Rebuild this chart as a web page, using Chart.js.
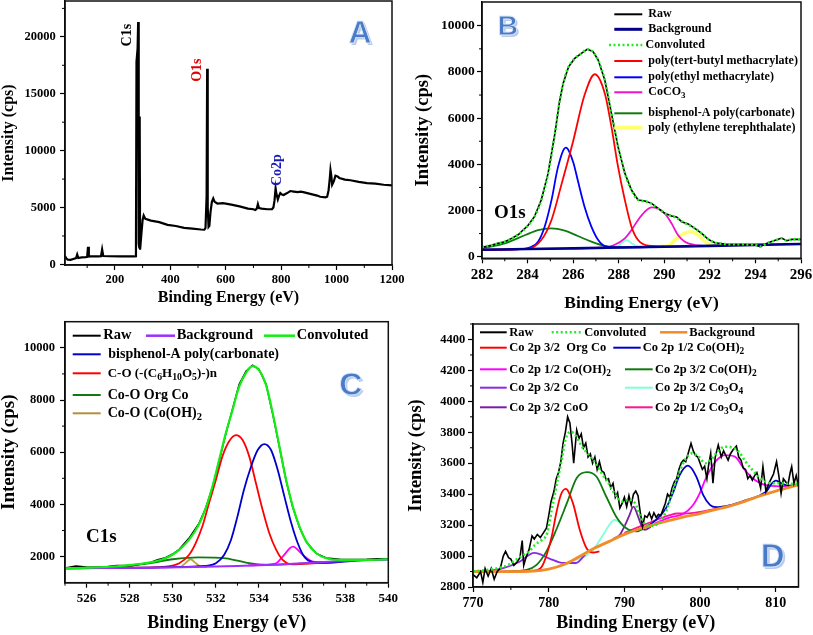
<!DOCTYPE html>
<html><head><meta charset="utf-8">
<script src="https://cdn.jsdelivr.net/npm/chart.js@4/dist/chart.umd.min.js"></script>
<style>
html,body{margin:0;padding:0;background:#fff;}
#wrap{position:relative;width:813px;height:635px;overflow:hidden;background:#fff;}
canvas{position:absolute;}
</style></head><body>
<div id="wrap">
<canvas id="cA" width="405" height="310" style="left:0;top:0;width:405px;height:310px"></canvas>
<canvas id="cB" width="408" height="320" style="left:405px;top:0;width:408px;height:320px"></canvas>
<canvas id="cC" width="405" height="325" style="left:0;top:310px;width:405px;height:325px"></canvas>
<canvas id="cD" width="408" height="325" style="left:405px;top:310px;width:408px;height:325px"></canvas>
</div>
<script>
// ---------------- DATA ----------------
// Panel A : survey
const surveyBE = [
 20, 25, 30, 40, 50, 60, 64, 68, 80, 95,
 100, 103, 106, 120, 140, 150, 154, 158, 180, 220,
 240, 270, 276, 278, 282, 284, 286, 288, 289.5, 291,
 292.5, 296, 300, 304, 310, 330, 360, 390, 420, 450,
 480, 510, 523, 527, 531, 533, 534, 536, 538, 541,
 545, 550, 555, 560, 570, 590, 620, 650, 680, 700,
 707, 712, 716, 720, 730, 750, 767, 772, 776, 780,
 783, 788, 792, 797, 803, 809, 820, 833, 846, 860,
 870, 880, 905, 930, 941, 960, 966, 971, 975, 978,
 981, 984, 990, 996, 1002, 1010, 1030, 1050, 1080, 1110,
 1140, 1170, 1200];
const surveyCounts = [
 750, 520, 420, 400, 480, 560, 880, 560, 620, 640,
 660, 1550, 700, 720, 700, 720, 1320, 740, 720, 700,
 720, 700, 720, 17800, 19000, 21300, 1800, 1500, 13000, 1300,
 1300, 2800, 3900, 4300, 4000, 3850, 3720, 3480, 3380, 3220,
 3150, 3070, 3050, 3200, 6000, 17200, 8200, 5000, 3300, 3400,
 4600, 5500, 5800, 5500, 5350, 5380, 5250, 5100, 4900, 4850,
 4780, 4900, 5300, 4950, 4900, 4850, 4850, 5000, 5600, 6680,
 6200, 5700, 6000, 6280, 6150, 6100, 6250, 6450, 6400, 6350,
 6400, 6350, 6200, 6050, 5950, 5900, 5950, 6500, 7400, 8300,
 7800, 7000, 7300, 7800, 7750, 7600, 7450, 7400, 7250, 7150,
 7100, 7000, 6950];
const surveyXTicks = [200, 400, 600, 800, 1000, 1200];
const surveyYTicks = [0, 5000, 10000, 15000, 20000];

// Panel B : O1s
const o1sBE = [282.0, 282.4, 282.7, 283.0, 283.3, 283.6, 283.8, 284.0, 284.3, 284.6,
 284.9, 285.2, 285.4, 285.56, 285.8, 286.07, 286.36, 286.63, 286.88, 287.1,
 287.39, 287.68, 287.97, 288.27, 288.56, 288.85, 289.15, 289.44, 289.73, 290.02,
 290.32, 290.54, 290.76, 291.05, 291.34, 291.64, 291.93, 292.22, 292.66, 293.25,
 293.98, 294.2, 294.56, 295.0, 295.15, 295.37, 295.6, 296.0];
const o1sRaw = [404, 490, 577, 650, 794, 960, 1154, 1330, 1732, 2453,
 3608, 5339, 6700, 7504, 8225, 8586, 8802, 8990, 8874, 8514,
 7648, 6205, 4762, 3608, 2886, 2453, 2410, 2309, 2092, 1876,
 1760, 1720, 1515, 1420, 1227, 1010, 750, 606, 548, 534,
 519, 433, 606, 750, 808, 693, 750, 750];
const o1sFit = [420, 490, 570, 650, 790, 960, 1140, 1330, 1720, 2440,
 3600, 5330, 6700, 7500, 8220, 8590, 8800, 8980, 8870, 8510,
 7650, 6210, 4770, 3610, 2890, 2460, 2400, 2300, 2090, 1880,
 1760, 1680, 1530, 1380, 1230, 1010, 760, 610, 550, 535,
 520, 440, 600, 750, 800, 700, 750, 750];
const o1sBgBE = [282, 284, 286, 288, 290, 292, 294, 296];
const o1sBg = [300, 330, 360, 395, 430, 470, 510, 550];
const ptbmaBE = [282, 284, 284.6, 285.05, 285.5, 286.0, 286.5, 286.95, 287.39, 287.68, 287.97, 288.27, 288.56, 288.85, 289.3, 290, 292];
const ptbma = [300, 340, 720, 1590, 3175, 5000, 7000, 7900, 7070, 5630, 3900, 2450, 1300, 720, 475, 440, 470];
const pemaBE = [282, 283.5, 284.17, 284.46, 284.75, 285.05, 285.34, 285.68, 286.0, 286.2, 286.5, 286.8, 287.1, 287.4, 288, 290];
const pema = [300, 320, 430, 650, 1300, 2450, 3900, 4720, 4100, 3320, 2165, 1300, 720, 460, 400, 430];
const coco3BE = [286, 287.4, 287.8, 288.27, 288.56, 288.85, 289.15, 289.44, 289.73, 290.02, 290.32, 290.6, 290.9, 291.34, 291.93, 293];
const coco3 = [360, 400, 505, 794, 1155, 1590, 1950, 2136, 2080, 1876, 1443, 938, 650, 505, 470, 500];
const bpaO1sBE = [282, 283.0, 283.9, 284.46, 285.05, 285.63, 286.2, 286.8, 287.4, 287.97, 289];
const bpaO1s = [360, 577, 938, 1155, 1227, 1125, 895, 650, 462, 400, 420];
const o1sMinorBE = [287.5, 287.9, 288.1, 288.34, 288.6, 288.85, 289.2];
const o1sMinor = [395, 420, 560, 720, 560, 440, 430];
const petBE = [289.8, 290.2, 290.46, 290.75, 291.12, 291.49, 291.78, 292.1, 292.5];
const pet = [440, 480, 720, 940, 1080, 940, 650, 520, 480];
const o1sXTicks = [282, 284, 286, 288, 290, 292, 294, 296];
const o1sYTicks = [0, 2000, 4000, 6000, 8000, 10000];

// Panel C : C1s
const c1sBE = [525, 525.5, 526, 526.55, 527, 527.4, 528.1, 528.9, 529.3, 529.66,
 530.0, 530.3, 530.75, 531.2, 531.5, 531.84, 532.15, 532.46, 532.77, 533.08,
 533.4, 533.7, 534.0, 534.33, 534.64, 534.95, 535.26, 535.57, 535.88, 536.2,
 536.66, 537.12, 537.75, 538.3, 539.0, 539.5, 540];
const c1sFit = [1553, 1560, 1575, 1592, 1610, 1630, 1681, 1770, 1840, 1936,
 2080, 2255, 2638, 3212, 3786, 4680, 5700, 6721, 7614, 8508,
 9043, 9299, 9146, 8572, 7487, 6211, 4935, 3914, 3148, 2574,
 2128, 1936, 1872, 1872, 1872, 1880, 1898];
const c1sRaw = [1560, 1640, 1600, 1590, 1620, 1660, 1650, 1760, 1880, 1960,
 2100, 2280, 2700, 3250, 3800, 4650, 5650, 6700, 7650, 8600,
 9100, 9330, 9180, 8600, 7450, 6200, 4900, 3880, 3120, 2560,
 2120, 1950, 1900, 1890, 1900, 1920, 1900];
const c1sBgBE = [525, 527, 529, 531, 533, 535, 537, 538.5, 540];
const c1sBg = [1553, 1560, 1575, 1600, 1640, 1700, 1790, 1850, 1898];
const coCelBE = [525, 528, 529.66, 530.3, 530.75, 531.06, 531.37, 531.68, 532.0, 532.3, 532.6, 532.93, 533.24, 533.55, 533.86, 534.17, 534.48, 534.8, 535.1, 535.57, 536.5, 538];
const coCel = [1553, 1575, 1617, 1745, 2064, 2510, 3150, 4040, 4935, 5830, 6400, 6657, 6466, 5830, 4807, 3786, 2893, 2255, 1872, 1700, 1740, 1840];
const bpaC1sBE = [525, 529, 531.5, 532.0, 532.38, 532.7, 533.0, 533.3, 533.63, 533.94, 534.25, 534.56, 534.87, 535.18, 535.5, 535.8, 536.1, 536.5, 537.12, 538.5, 540];
const bpaC1s = [1553, 1580, 1643, 1745, 2064, 2638, 3531, 4552, 5445, 6083, 6313, 6083, 5318, 4297, 3276, 2510, 2000, 1790, 1760, 1850, 1898];
const c1sMinorBE = [533.5, 534.3, 534.8, 535.1, 535.57, 536.04, 536.5, 537.1, 538];
const c1sMinor = [1660, 1690, 1745, 2000, 2383, 2064, 1809, 1780, 1830];
const coOrgBE = [525, 527.3, 528.9, 530.0, 531.2, 532.46, 533.55, 534.3, 535.5, 537];
const coOrg = [1560, 1617, 1745, 1898, 1974, 1936, 1745, 1680, 1710, 1790];
const coOHC1sBE = [530.0, 530.36, 530.6, 530.83, 531.05, 531.3, 531.6];
const coOHC1s = [1600, 1610, 1760, 1898, 1760, 1620, 1610];
const c1sXTicks = [526, 528, 530, 532, 534, 536, 538, 540];
const c1sYTicks = [2000, 4000, 6000, 8000, 10000];

// Panel D : Co 2p
const co2pRawBE = [770, 770.5, 771, 771.3, 771.6, 772, 772.4, 772.8, 773.2, 773.6,
 774, 774.3, 774.7, 775, 775.4, 775.8, 776.2, 776.5, 776.7, 777.0,
 777.4, 777.8, 778.1, 778.5, 778.9, 779.3, 779.7, 780.0, 780.3, 780.7,
 781.0, 781.3, 781.6, 781.9, 782.2, 782.5, 782.8, 783.1, 783.3, 783.7,
 784.0, 784.3, 784.6, 784.9, 785.2, 785.5, 785.8, 786.1, 786.4, 786.7,
 787.0, 787.3, 787.6, 787.9, 788.2, 788.5, 788.8, 789.1, 789.4, 789.7,
 790.0, 790.3, 790.6, 790.9, 791.2, 791.5, 791.8, 792.1, 792.4, 792.7,
 793.0, 793.3, 793.6, 793.9, 794.2, 794.5, 794.8, 795.1, 795.4, 795.7,
 796.0, 796.3, 796.6, 796.9, 797.2, 797.5, 797.8, 798.1, 798.4, 798.8,
 799.1, 799.4, 799.7, 800.0, 800.3, 800.6, 800.9, 801.1, 801.4, 801.7,
 802.0, 802.4, 802.8, 803.1, 803.4, 803.7, 804.0, 804.4, 804.8, 805.1,
 805.4, 805.7, 806.0, 806.3, 806.6, 806.9, 807.2, 807.5, 807.8, 808.0,
 808.3, 808.7, 809.0, 809.4, 809.7, 810.1, 810.4, 810.7, 811.0, 811.3,
 811.6, 811.9, 812.1, 812.4, 812.7, 813.0];
const co2pRaw = [2880, 2860, 2900, 2830, 2920, 2870, 2920, 2850, 2900, 2920,
 3000, 3030, 2990, 2980, 2940, 2960, 2990, 3100, 2940, 2990,
 3040, 3130, 3110, 3140, 3120, 3150, 3180, 3260, 3350, 3420,
 3500, 3540, 3610, 3730, 3800, 3900, 3860, 3720, 3600, 3815,
 3760, 3790, 3700, 3730, 3640, 3660, 3600, 3640, 3560, 3610,
 3550, 3540, 3490, 3500, 3440, 3470, 3380, 3410, 3310, 3340,
 3380, 3320, 3390, 3330, 3400, 3420, 3390, 3280, 3190, 3260,
 3250, 3280, 3240, 3280, 3250, 3270, 3260, 3300, 3340, 3400,
 3380, 3440, 3480, 3500, 3560, 3600, 3620, 3610, 3660, 3729,
 3680, 3650, 3640, 3600, 3560, 3580, 3500, 3580, 3664, 3471,
 3640, 3718, 3640, 3680, 3650, 3620, 3660, 3690, 3711, 3640,
 3620, 3570, 3560, 3500, 3520, 3490, 3520, 3540, 3480, 3440,
 3578, 3417, 3460, 3500, 3530, 3610, 3520, 3406, 3500, 3480,
 3460, 3540, 3578, 3470, 3520, 3450];
const co2pFitBE = [770, 772.1, 773.4, 774.7, 776.0, 777.4, 778.2, 779.1, 779.8, 780.4,
 781.1, 781.8, 782.2, 782.9, 783.5, 784.4, 785.3, 786.2, 787.0, 787.9,
 788.8, 789.7, 790.6, 791.4, 792.1, 792.8, 793.6, 794.5, 795.4, 796.3,
 797.2, 798.0, 798.9, 799.8, 800.7, 801.6, 802.5, 803.3, 804.2, 805.1,
 806.0, 806.9, 807.7, 808.6, 809.5, 810.4, 811.7, 813];
const co2pFit = [2901, 2912, 2923, 2944, 2987, 3030, 3073, 3105, 3148, 3299,
 3471, 3643, 3750, 3804, 3783, 3707, 3654, 3600, 3535, 3471,
 3396, 3353, 3363, 3342, 3256, 3202, 3196, 3213, 3277, 3406,
 3535, 3621, 3664, 3643, 3600, 3632, 3686, 3707, 3703, 3675,
 3611, 3557, 3514, 3482, 3471, 3471, 3467, 3467];
const co2pBgBE = [770, 774, 778, 780, 782, 784, 786, 788, 790, 792, 794, 796, 798, 800, 802, 804, 806, 808, 810, 813];
const co2pBg = [2900, 2900, 2903, 2915, 2945, 2995, 3050, 3095, 3140, 3175, 3205, 3230, 3255, 3275, 3300, 3325, 3355, 3390, 3420, 3460];
const orgCoBE = [770, 776, 778.0, 779.1, 779.8, 780.4, 781.0, 781.6, 782.25, 783.2, 784.1, 785.0, 785.9, 786.7];
const orgCo = [2900, 2900, 2905, 2932, 3018, 3126, 3277, 3395, 3434, 3342, 3170, 3051, 3023, 3030];
const coOH32BE = [774, 777.1, 778.4, 779.7, 781.0, 782.4, 783.7, 785.06, 786.3, 787.6, 788.9, 790.2, 791.6, 793];
const coOH32 = [2900, 2911, 2943, 3030, 3170, 3342, 3504, 3542, 3514, 3385, 3256, 3181, 3159, 3195];
const co3o4_32BE = [783.5, 784.8, 785.9, 787.2, 788.7, 790.0, 791.1, 792];
const co3o4_32 = [2975, 2998, 3041, 3138, 3234, 3191, 3159, 3175];
const co32BE = [770, 772.1, 773.9, 776.1, 778.1, 780.1, 781.8, 783.6, 784.8];
const co32 = [2898, 2904, 2920, 2962, 3020, 2984, 2956, 2955, 3008];
const coo32BE = [788.5, 789.4, 790.0, 790.6, 791.2, 791.8, 792.3, 792.7, 793.5];
const coo32 = [3110, 3138, 3191, 3256, 3320, 3256, 3191, 3170, 3190];
const coOH12aBE = [792.0, 792.9, 794.2, 795.5, 796.4, 797.3, 798.4, 799.5, 800.4, 801.3, 802.1, 804, 806, 808, 808.8, 809.4, 810.0, 810.6, 811.2, 812, 813];
const coOH12a = [3175, 3191, 3234, 3310, 3406, 3524, 3584, 3514, 3396, 3331, 3316, 3330, 3360, 3395, 3420, 3465, 3488, 3475, 3460, 3455, 3460];
const coOH12bBE = [794, 796.0, 797.7, 799.0, 799.9, 800.8, 802.1, 803.3, 804.6, 805.9, 807.2, 809.0, 811.2, 813];
const coOH12b = [3210, 3250, 3271, 3325, 3400, 3507, 3615, 3653, 3643, 3557, 3493, 3455, 3450, 3460];
const co3o4_12BE = [790, 792, 794, 796, 797, 798, 800, 802, 804];
const co3o4_12 = [3150, 3190, 3230, 3265, 3275, 3275, 3285, 3305, 3325];
const co2pXTicks = [770, 780, 790, 800, 810];
const co2pYTicks = [2800, 3000, 3200, 3400, 3600, 3800, 4000, 4200, 4400];

// ---------------- HELPERS ----------------
const SERIF = "'Liberation Serif', 'Times New Roman', serif";
const xy = (xs, ys) => xs.map((x, i) => ({x: x, y: ys[i]}));
function ds(label, xs, ys, color, width, extra) {
  return Object.assign({label: label, data: xy(xs, ys), borderColor: color, backgroundColor: color,
    borderWidth: width, pointRadius: 0, pointHoverRadius: 0, fill: false, tension: 0}, extra || {});
}
const SMOOTH = {cubicInterpolationMode: 'monotone'};
const DOT = {borderDash: [2, 2.5], borderCapStyle: 'butt'};
const mids = t => t.slice(0, -1).map((v, i) => (v + t[i + 1]) / 2);

function scaleX(o) {
  return {
    type: 'linear', position: 'bottom', min: o.min, max: o.max,
    afterBuildTicks: s => { s.ticks = o.ticks.map(v => ({value: v})); },
    afterFit: s => { s.height = o.h; s.paddingLeft = 0; s.paddingRight = 0; },
    ticks: {autoSkip: false, maxRotation: 0, minRotation: 0, padding: o.pad, color: '#000',
      font: {family: SERIF, size: o.size, weight: 'bold'}, callback: v => String(v)},
    grid: {drawOnChartArea: false, drawTicks: true, tickLength: o.tl || 5, tickColor: '#000', tickWidth: 1.2},
    border: {display: true, color: '#000', width: 1.5},
    title: {display: true, text: 'Binding Energy (eV)', color: '#000',
      font: {family: SERIF, size: o.tsize, weight: 'bold', lineHeight: 1}, padding: {top: 0, bottom: o.tpad}}
  };
}
function scaleY(o) {
  return {
    type: 'linear', position: 'left', min: o.min, max: o.max,
    afterBuildTicks: s => { s.ticks = o.ticks.map(v => ({value: v})); },
    afterFit: s => { s.width = o.w; s.paddingTop = 0; s.paddingBottom = 0; },
    ticks: {autoSkip: false, padding: o.pad, color: '#000',
      font: {family: SERIF, size: o.size, weight: 'bold'}, callback: v => String(v)},
    grid: {drawOnChartArea: false, drawTicks: true, tickLength: o.tl || 5, tickColor: '#000', tickWidth: 1.2},
    border: {display: true, color: '#000', width: 1.5},
    title: {display: true, text: 'Intensity (cps)', color: '#000',
      font: {family: SERIF, size: o.tsize, weight: 'bold', lineHeight: 1}, padding: {top: o.tpad, bottom: 0}}
  };
}
function drawRich(ctx, str, x, y, size, color) {
  const parts = str.split(/(\{[^}]*\})/);
  ctx.fillStyle = color; ctx.textBaseline = 'middle'; ctx.textAlign = 'left';
  let cx = x;
  parts.forEach(p => {
    if (!p) return;
    if (p[0] === '{') {
      const t = p.slice(1, -1);
      ctx.font = 'bold ' + (size * 0.75) + 'px ' + SERIF;
      ctx.fillText(t, cx, y + size * 0.32);
      cx += ctx.measureText(t).width;
    } else {
      ctx.font = 'bold ' + size + 'px ' + SERIF;
      ctx.fillText(p, cx, y);
      cx += ctx.measureText(p).width;
    }
  });
}
function overlay(spec) {
  return {
    id: 'overlay',
    afterDraw(chart) {
      const ctx = chart.ctx, a = chart.chartArea, sx = chart.scales.x, sy = chart.scales.y;
      ctx.save();
      ctx.strokeStyle = '#111'; ctx.lineWidth = 1.5; ctx.setLineDash([]);
      ctx.strokeRect(a.left, a.top, a.right - a.left, a.bottom - a.top);
      ctx.lineWidth = 1; ctx.strokeStyle = '#000';
      ctx.beginPath();
      (spec.minorX || []).forEach(v => { const p = sx.getPixelForValue(v); ctx.moveTo(p, a.bottom); ctx.lineTo(p, a.bottom + 3); });
      (spec.minorY || []).forEach(v => { const p = sy.getPixelForValue(v); ctx.moveTo(a.left, p); ctx.lineTo(a.left - 3, p); });
      ctx.stroke();
      (spec.texts || []).forEach(t => {
        const px = sx.getPixelForValue(t.x), py = sy.getPixelForValue(t.y);
        ctx.save();
        ctx.translate(px, py);
        if (t.rot) ctx.rotate(t.rot);
        ctx.font = 'bold ' + t.size + 'px ' + SERIF;
        ctx.fillStyle = t.color; ctx.textAlign = 'center'; ctx.textBaseline = 'middle';
        ctx.fillText(t.text, 0, 0);
        ctx.restore();
      });
      if (spec.letter) {
        const L = spec.letter;
        const px = sx.getPixelForValue(L.x), py = sy.getPixelForValue(L.y);
        ctx.font = 'bold ' + L.size + "px 'Liberation Sans', 'DejaVu Sans', sans-serif";
        ctx.textAlign = 'center'; ctx.textBaseline = 'alphabetic';
        const by = py + L.size * 0.36;
        ctx.fillStyle = '#b9cdeb'; ctx.fillText(L.ch, px + 2, by + 2);
        ctx.fillStyle = '#4a7bc8'; ctx.fillText(L.ch, px, by);
        ctx.lineWidth = 0.8; ctx.strokeStyle = '#dfe9f7'; ctx.strokeText(L.ch, px, by);
      }
      (spec.legend || []).forEach(it => {
        ctx.beginPath();
        ctx.strokeStyle = it.color; ctx.lineWidth = it.width || 2;
        ctx.setLineDash(it.dash || []);
        ctx.moveTo(it.x1, it.y); ctx.lineTo(it.x2, it.y); ctx.stroke();
        ctx.setLineDash([]);
        drawRich(ctx, it.text, it.tx, it.y, it.size || spec.legendSize, '#000');
      });
      ctx.restore();
    }
  };
}
function makeChart(id, datasets, pad, xo, yo, spec) {
  return new Chart(document.getElementById(id), {
    type: 'line',
    data: {datasets: datasets},
    options: {
      responsive: false, animation: false, events: [],
      layout: {padding: pad},
      plugins: {legend: {display: false}, tooltip: {enabled: false}},
      scales: {x: scaleX(xo), y: scaleY(yo)}
    },
    plugins: [overlay(spec)]
  });
}

// ---------------- PANEL A ----------------
makeChart('cA',
  [ds('Raw', surveyBE, surveyCounts, '#000', 2.2)],
  {top: 1, right: 13, left: 0, bottom: 0},
  {min: 20, max: 1200, ticks: surveyXTicks, h: 45, size: 12.5, pad: 2.5, tsize: 16, tpad: 3.7},
  {min: -50, max: 23150, ticks: surveyYTicks, w: 65, size: 12.5, pad: 4.3, tsize: 16, tpad: 1},
  {minorX: [100, 300, 500, 700, 900, 1100], minorY: [2500, 7500, 12500, 17500, 22500],
   texts: [
     {text: 'C1s', x: 246, y: 20150, size: 14, color: '#000', rot: -Math.PI / 2},
     {text: 'O1s', x: 498, y: 17073, size: 14, color: '#e00000', rot: -Math.PI / 2},
     {text: 'Co2p', x: 786, y: 8286, size: 14, color: '#1c1cb4', rot: -Math.PI / 2}],
   letter: {ch: 'A', x: 1085, y: 20456, size: 32}});

// ---------------- PANEL B ----------------
const bLegX1 = 209.3, bLegX2 = 237.3, bLegTx = 243.3;
makeChart('cB',
  [ds('Convoluted', o1sBE, o1sFit, '#22ee22', 2.5, Object.assign({}, DOT, SMOOTH)),
   ds('Raw', o1sBE, o1sRaw, '#000', 1.6),
   ds('Background', o1sBgBE, o1sBg, '#000088', 2.6),
   ds('poly(tert-butyl methacrylate)', ptbmaBE, ptbma, '#ff0000', 1.8, SMOOTH),
   ds('poly(ethyl methacrylate)', pemaBE, pema, '#0000ff', 1.8, SMOOTH),
   ds('CoCO3', coco3BE, coco3, '#ee11cc', 1.8, SMOOTH),
   ds('bisphenol-A poly(carbonate)', bpaO1sBE, bpaO1s, '#107a10', 1.8, SMOOTH),
   ds('minor', o1sMinorBE, o1sMinor, '#7fffd4', 1.8, SMOOTH),
   ds('poly (ethylene terephthalate)', petBE, pet, '#ffff70', 3.5, SMOOTH)],
  {top: 2, right: 12, left: 0, bottom: 0},
  {min: 282, max: 296, ticks: o1sXTicks, h: 61.7, size: 15, pad: 2.7, tsize: 17.5, tpad: 8.25},
  {min: -70, max: 11030, ticks: o1sYTicks, w: 77, size: 13.5, pad: 2.3, tsize: 18.5, tpad: 9.25},
  {minorX: [283, 285, 287, 289, 291, 293, 295], minorY: [1000, 3000, 5000, 7000, 9000],
   texts: [{text: 'O1s', x: 283.22, y: 1892, size: 19, color: '#000'}],
   letter: {ch: 'B', x: 283.13, y: 10030, size: 28},
   legendSize: 12,
   legend: [
     {x1: bLegX1, x2: bLegX2, tx: bLegTx, y: 14.3, text: 'Raw', color: '#000', width: 2},
     {x1: bLegX1, x2: bLegX2, tx: bLegTx, y: 29.3, text: 'Background', color: '#000088', width: 3},
     {x1: 204, x2: 237.3, tx: 240.5, y: 45, text: 'Convoluted', color: '#22ee22', width: 2.5, dash: [2, 2.5]},
     {x1: bLegX1, x2: bLegX2, tx: bLegTx, y: 61, text: 'poly(tert-butyl methacrylate)', color: '#ff0000', width: 2},
     {x1: bLegX1, x2: bLegX2, tx: bLegTx, y: 77.3, text: 'poly(ethyl methacrylate)', color: '#0000ff', width: 2},
     {x1: bLegX1, x2: bLegX2, tx: bLegTx, y: 92.3, text: 'CoCO{3}', color: '#ee11cc', width: 2},
     {x1: bLegX1, x2: bLegX2, tx: bLegTx, y: 113.3, text: 'bisphenol-A poly(carbonate)', color: '#107a10', width: 2},
     {x1: bLegX1, x2: bLegX2, tx: bLegTx, y: 127.7, text: 'poly (ethylene terephthalate)', color: '#ffff70', width: 4}]});

// ---------------- PANEL C ----------------
makeChart('cC',
  [ds('Convoluted', c1sBE, c1sFit, '#11ee11', 2.2, SMOOTH),
   ds('Raw', c1sBE, c1sRaw, '#000', 1.5),
   ds('Background', c1sBgBE, c1sBg, '#9b30ff', 2, SMOOTH),
   ds('bisphenol-A poly(carbonate)', bpaC1sBE, bpaC1s, '#0000cc', 1.8, SMOOTH),
   ds('C-O (-(C6H10O5)-)n', coCelBE, coCel, '#ff0000', 1.8, SMOOTH),
   ds('minor', c1sMinorBE, c1sMinor, '#ff00ff', 1.8, SMOOTH),
   ds('Co-O Org Co', coOrgBE, coOrg, '#107a10', 1.8, SMOOTH),
   ds('Co-O (Co(OH)2', coOHC1sBE, coOHC1s, '#c0a030', 1.8, SMOOTH)],
  {top: 11.7, right: 16.7, left: 0, bottom: 0},
  {min: 525, max: 540, ticks: c1sXTicks, h: 52.3, size: 13, pad: 2.8, tsize: 18, tpad: 2.7},
  {min: 1000, max: 11000, ticks: c1sYTicks, w: 65, size: 12.5, pad: 5, tsize: 19, tpad: 0},
  {minorX: [525, 527, 529, 531, 533, 535, 537, 539], minorY: [3000, 5000, 7000, 9000],
   texts: [{text: 'C1s', x: 526.69, y: 2755, size: 19, color: '#000'}],
   letter: {ch: 'C', x: 538.26, y: 8644, size: 32},
   legendSize: 14.5,
   legend: [
     {x1: 72.7, x2: 100.7, tx: 103.3, y: 25.7, text: 'Raw', color: '#000', width: 2},
     {x1: 146, x2: 175, tx: 176.7, y: 25.7, text: 'Background', color: '#9b30ff', width: 2.5},
     {x1: 264, x2: 295, tx: 296.7, y: 25.7, text: 'Convoluted', color: '#11ee11', width: 2.5},
     {x1: 72.7, x2: 100.7, tx: 108.3, y: 44.3, text: 'bisphenol-A poly(carbonate)', color: '#0000cc', width: 2, size: 14},
     {x1: 72.7, x2: 100.7, tx: 107.7, y: 63.3, text: 'C-O (-(C{6}H{10}O{5})-)n', color: '#ff0000', width: 2, size: 13},
     {x1: 72.7, x2: 100.7, tx: 107.7, y: 85, text: 'Co-O Org Co', color: '#107a10', width: 2, size: 14},
     {x1: 72.7, x2: 100.7, tx: 107.7, y: 103.3, text: 'Co-O (Co(OH){2}', color: '#b09040', width: 2, size: 14}]});

// ---------------- PANEL D ----------------
makeChart('cD',
  [ds('Convoluted', co2pFitBE, co2pFit, '#22ee22', 2.6, Object.assign({}, DOT, SMOOTH)),
   ds('Raw', co2pRawBE, co2pRaw, '#000', 1.6),
   ds('Background', co2pBgBE, co2pBg, '#f28c28', 2.8, SMOOTH),
   ds('Co 2p 3/2 Org Co', orgCoBE, orgCo, '#ff0000', 1.8, SMOOTH),
   ds('Co 2p 1/2 Co(OH)2 a', coOH12aBE, coOH12a, '#0000cc', 1.8, SMOOTH),
   ds('Co 2p 1/2 Co(OH)2 b', coOH12bBE, coOH12b, '#ff00ff', 1.8, SMOOTH),
   ds('Co 2p 3/2 Co(OH)2', coOH32BE, coOH32, '#107a10', 1.8, SMOOTH),
   ds('Co 2p 3/2 Co', co32BE, co32, '#8a2be2', 1.8, SMOOTH),
   ds('Co 2p 3/2 Co3O4', co3o4_32BE, co3o4_32, '#7fffd4', 1.8, SMOOTH),
   ds('Co 2p 3/2 CoO', coo32BE, coo32, '#7b1fa2', 1.8, SMOOTH),
   ds('Co 2p 1/2 Co3O4', co3o4_12BE, co3o4_12, '#ff1493', 1.8, SMOOTH)],
  {top: 14, right: 14.5, left: 0, bottom: 0},
  {min: 770, max: 813, ticks: co2pXTicks, h: 48, size: 14, pad: 2.6, tsize: 18, tpad: 2.7},
  {min: 2800, max: 4500, ticks: co2pYTicks, w: 68, size: 12.5, pad: 2.7, tsize: 18.5, tpad: 1.75},
  {minorX: [775, 785, 795, 805], minorY: mids(co2pYTicks).concat([4500]),
   letter: {ch: 'D', x: 809.6, y: 3008, size: 33},
   legendSize: 12.5,
   legend: [
     {x1: 75, x2: 101.7, tx: 104.3, y: 22.3, text: 'Raw', color: '#000', width: 2},
     {x1: 146.7, x2: 178.3, tx: 179.3, y: 22.3, text: 'Convoluted', color: '#22ee22', width: 2.5, dash: [2, 2.5]},
     {x1: 255, x2: 282.3, tx: 284.3, y: 22.3, text: 'Background', color: '#f28c28', width: 2.5},
     {x1: 75, x2: 101.7, tx: 104.3, y: 37.7, text: 'Co 2p 3/2  Org Co', color: '#ff0000', width: 2},
     {x1: 208.3, x2: 235.7, tx: 237.7, y: 37.7, text: 'Co 2p 1/2 Co(OH){2}', color: '#0000cc', width: 2},
     {x1: 75, x2: 101.7, tx: 104.3, y: 59.3, text: 'Co 2p 1/2 Co(OH){2}', color: '#ff00ff', width: 2},
     {x1: 220, x2: 247.7, tx: 250, y: 59.3, text: 'Co 2p 3/2 Co(OH){2}', color: '#107a10', width: 2},
     {x1: 75, x2: 101.7, tx: 104.3, y: 77.7, text: 'Co 2p 3/2 Co', color: '#8a2be2', width: 2},
     {x1: 220, x2: 247.7, tx: 250, y: 77.7, text: 'Co 2p 3/2 Co{3}O{4}', color: '#7fffd4', width: 2},
     {x1: 75, x2: 101.7, tx: 104.3, y: 97.3, text: 'Co 2p 3/2 CoO', color: '#7b1fa2', width: 2},
     {x1: 220, x2: 247.7, tx: 250, y: 97.3, text: 'Co 2p 1/2 Co{3}O{4}', color: '#ff1493', width: 2}]});
</script>
</body></html>
